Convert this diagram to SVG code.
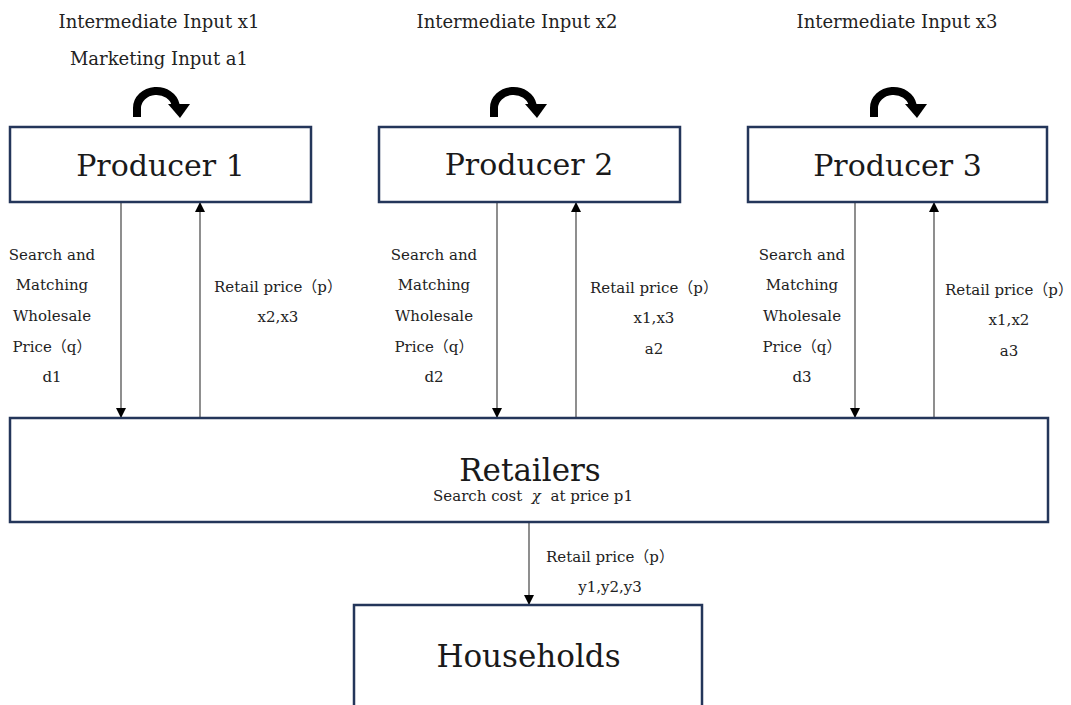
<svg xmlns="http://www.w3.org/2000/svg" width="1071" height="705" viewBox="0 0 1071 705">
  <style>
    .box { fill: #ffffff; stroke: #24365a; stroke-width: 2.5; }
    .big { font-family: "DejaVu Serif", "Liberation Serif", serif; fill: #1a1a1a; text-anchor: middle; }
    .top { font-family: "DejaVu Serif", "Liberation Serif", serif; font-size: 18px; fill: #222222; text-anchor: middle; }
    .lbl { font-family: "DejaVu Serif", "Liberation Serif", "Noto Sans CJK JP", serif; font-size: 15px; fill: #222222; text-anchor: middle; }
    .conn { stroke: #444444; stroke-width: 1.2; fill: none; }
    .loop { stroke: #000000; stroke-width: 8; fill: none; }
  </style>
  <defs>
    <marker id="ah" markerUnits="userSpaceOnUse" markerWidth="10" markerHeight="10" refX="10" refY="5" orient="auto">
      <path d="M0,0 L10,5 L0,10 z" fill="#000000"/>
    </marker>
    <g id="loopArrow">
      <path class="loop" d="M0 117 L0 108 A19.5 17 0 0 1 38.7 105"/>
      <polygon points="31,104 53,104 43,118" fill="#000000"/>
    </g>
  </defs>
  <rect width="1071" height="705" fill="#ffffff"/>

  <g id="connectors">
    <use href="#loopArrow" transform="translate(137,0)"/>
    <use href="#loopArrow" transform="translate(494,0)"/>
    <use href="#loopArrow" transform="translate(874,0)"/>
    <line class="conn" x1="121" y1="202" x2="121" y2="418" marker-end="url(#ah)"/>
    <line class="conn" x1="200" y1="418" x2="200" y2="202" marker-end="url(#ah)"/>
    <line class="conn" x1="497" y1="202" x2="497" y2="418" marker-end="url(#ah)"/>
    <line class="conn" x1="576" y1="418" x2="576" y2="202" marker-end="url(#ah)"/>
    <line class="conn" x1="855" y1="202" x2="855" y2="418" marker-end="url(#ah)"/>
    <line class="conn" x1="934" y1="418" x2="934" y2="202" marker-end="url(#ah)"/>
    <line class="conn" x1="529" y1="522" x2="529" y2="605" marker-end="url(#ah)"/>
  </g>

  <g id="labels">
    <text class="top" x="159" y="28">Intermediate Input x1</text>
    <text class="top" x="159" y="65">Marketing Input a1</text>
    <text class="top" x="517" y="28">Intermediate Input x2</text>
    <text class="top" x="897" y="28">Intermediate Input x3</text>

    <text class="lbl" x="52" y="260">Search and</text>
    <text class="lbl" x="52" y="290">Matching</text>
    <text class="lbl" x="52" y="321">Wholesale</text>
    <text class="lbl" x="52" y="352">Price（q）</text>
    <text class="lbl" x="52" y="382">d1</text>
    <text class="lbl" x="278" y="292">Retail price（p）</text>
    <text class="lbl" x="278" y="322">x2,x3</text>

    <text class="lbl" x="434" y="260">Search and</text>
    <text class="lbl" x="434" y="290">Matching</text>
    <text class="lbl" x="434" y="321">Wholesale</text>
    <text class="lbl" x="434" y="352">Price（q）</text>
    <text class="lbl" x="434" y="382">d2</text>
    <text class="lbl" x="654" y="293">Retail price（p）</text>
    <text class="lbl" x="654" y="323">x1,x3</text>
    <text class="lbl" x="654" y="354">a2</text>

    <text class="lbl" x="802" y="260">Search and</text>
    <text class="lbl" x="802" y="290">Matching</text>
    <text class="lbl" x="802" y="321">Wholesale</text>
    <text class="lbl" x="802" y="352">Price（q）</text>
    <text class="lbl" x="802" y="382">d3</text>
    <text class="lbl" x="1009" y="295">Retail price（p）</text>
    <text class="lbl" x="1009" y="325">x1,x2</text>
    <text class="lbl" x="1009" y="356">a3</text>

    <text class="lbl" x="610" y="562">Retail price（p）</text>
    <text class="lbl" x="610" y="592">y1,y2,y3</text>
  </g>

  <g id="producer1">
    <rect class="box" x="10" y="127" width="301" height="75"/>
    <text class="big" x="160.5" y="176" font-size="30">Producer 1</text>
  </g>
  <g id="producer2">
    <rect class="box" x="379" y="127" width="301" height="75"/>
    <text class="big" x="529" y="175" font-size="30">Producer 2</text>
  </g>
  <g id="producer3">
    <rect class="box" x="748" y="127" width="299" height="75"/>
    <text class="big" x="897.5" y="176" font-size="30">Producer 3</text>
  </g>
  <g id="retailers">
    <rect class="box" x="10" y="418" width="1038" height="104"/>
    <text class="big" x="530" y="481" font-size="31">Retailers</text>
    <text class="lbl" x="533" y="501" style="white-space:pre">Search cost  <tspan font-style="italic">χ</tspan>  at price p1</text>
  </g>
  <g id="households">
    <rect class="box" x="354" y="605" width="348" height="130"/>
    <text class="big" x="528.5" y="667" font-size="31">Households</text>
  </g>
</svg>
